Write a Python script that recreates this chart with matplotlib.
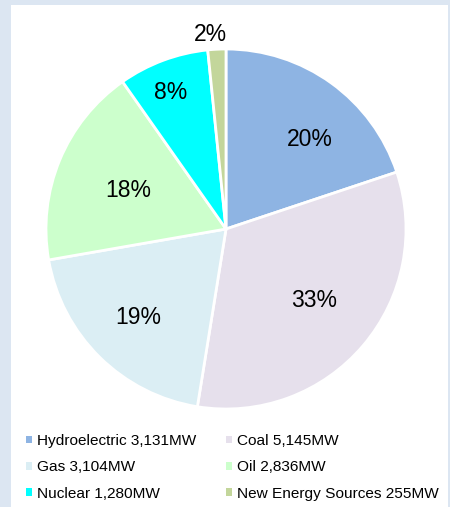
import matplotlib
matplotlib.use("Agg")
import matplotlib.pyplot as plt
import numpy as np

plt.rcParams['font.family'] = ['Liberation Sans', 'DejaVu Sans']

sources = ["Hydroelectric", "Coal", "Gas", "Oil", "Nuclear", "New Energy Sources"]
capacity_mw = [3131, 5145, 3104, 2836, 1280, 255]
pct_labels = ["20%", "33%", "19%", "18%", "8%", "2%"]
colors = ["#8EB4E3", "#E6E0EC", "#DBEEF4", "#CCFFCC", "#00FFFF", "#C3D69B"]
# label placement (style): radial distance and angular shift from slice bisector
label_r = [0.656, 0.654, 0.718, 0.570, 0.786, 1.050]
label_shift = [-9.6, -0.9, 2.0, 4.3, 2.8, 1.8]

W, H = 450, 507
fig = plt.figure(figsize=(W / 100, H / 100), dpi=100, facecolor="#DCE6F2")
bg = fig.add_axes([11 / W, 0, 437 / W, 502 / H], zorder=-5)
bg.set_facecolor("white")
bg.set_xticks([])
bg.set_yticks([])
for s in bg.spines.values():
    s.set_visible(False)

cx, cy, r = 226, 229, 180
ax = fig.add_axes([(cx - r) / W, (H - cy - r) / H, 2 * r / W, 2 * r / H], zorder=1)
wedges, _ = ax.pie(capacity_mw, colors=colors, startangle=90, counterclock=False,
                   wedgeprops=dict(edgecolor="white", linewidth=2))
ax.set_xlim(-1, 1)
ax.set_ylim(-1, 1)
ax.set_aspect("equal")
ax.axis("off")

for w, lab, d, sh in zip(wedges, pct_labels, label_r, label_shift):
    ang = np.deg2rad((w.theta1 + w.theta2) / 2 + sh)
    ax.text(d * np.cos(ang), d * np.sin(ang), lab, ha="center", va="baseline",
            fontsize=16.5, color="black", clip_on=False)

leg_labels = [f"{s} {v:,}MW" for s, v in zip(sources, capacity_mw)]
order = [0, 2, 4, 1, 3, 5]
leg = fig.legend([wedges[i] for i in order], [leg_labels[i] for i in order],
                 ncol=2, loc="upper left", bbox_to_anchor=(26 / W, 1 - 434 / H),
                 frameon=False, fontsize=11.1, handlelength=0.42, handleheight=0.42,
                 handletextpad=0.32, columnspacing=1.9, labelspacing=0.8,
                 borderaxespad=0, borderpad=0)
for p in leg.get_patches():
    p.set_edgecolor("none")

fig.savefig("out.png", dpi=100, facecolor=fig.get_facecolor())
